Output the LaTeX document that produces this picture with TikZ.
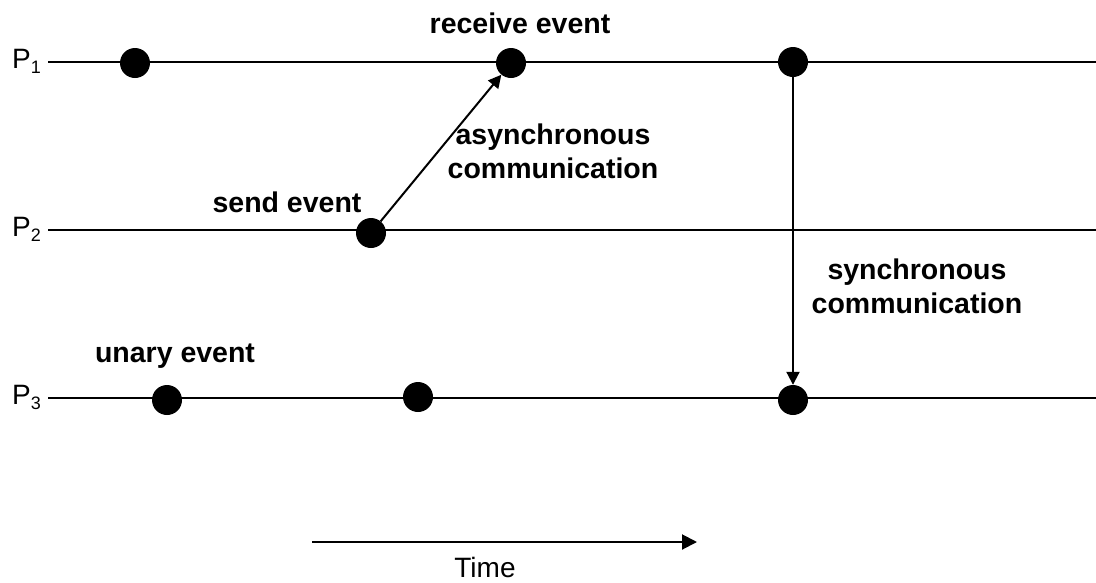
\documentclass[tikz,border=0pt]{standalone}
\usepackage{fontspec}
\setmainfont{Liberation Sans}
\usetikzlibrary{arrows.meta}

\newcommand{\procsub}[1]{\raisebox{-5pt}{\fontsize{18}{18}\selectfont #1}}

\begin{document}
\begin{tikzpicture}[x=1pt,y=-1pt,
    every node/.style={font=\fontsize{28}{34}\selectfont},
    event/.style={circle,fill=black,inner sep=0pt,minimum size=30pt},
    timeline/.style={line width=2.4pt},
    msg/.style={line width=2pt,-{Triangle[length=13pt,width=13pt]}},
    lbl/.style={font=\fontsize{28.5}{34}\selectfont\bfseries,anchor=base,align=center,inner sep=0pt},
    proc/.style={anchor=base west,inner sep=0pt}]
  \useasboundingbox (0,0) rectangle (1096,582);

  % process time lines
  \coordinate (l1a) at (48,62);  \coordinate (l1b) at (1096,62);
  \coordinate (l2a) at (48,230); \coordinate (l2b) at (1096,230);
  \coordinate (l3a) at (48,398); \coordinate (l3b) at (1096,398);
  \draw[timeline] (l1a) -- (l1b);
  \draw[timeline] (l2a) -- (l2b);
  \draw[timeline] (l3a) -- (l3b);

  \node[proc] (P1) at (12,68)  {P\procsub{1}};
  \node[proc] (P2) at (12,236) {P\procsub{2}};
  \node[proc] (P3) at (12,404) {P\procsub{3}};

  % events
  \node[event] (e11) at (135,63) {};
  \node[event] (e12) at (511,63) {};
  \node[event] (e13) at (793,62) {};
  \node[event] (e21) at (371,233) {};
  \node[event] (e31) at (167,400) {};
  \node[event] (e32) at (418,397) {};
  \node[event] (e33) at (793,400) {};

  % messages
  \draw[msg] (e21) -- (e12);
  \draw[msg] (e13) -- (e33);

  % labels (base anchor sits on the last line)
  \node[lbl] (recv)  at (520,33)  {receive event};
  \node[lbl] (async) at (553,178) {asynchronous\\communication};
  \node[lbl] (send)  at (287,212) {send event};
  \node[lbl] (sync)  at (917,313) {synchronous\\communication};
  \node[lbl] (unary) at (175,362) {unary event};

  % time axis
  \coordinate (t0) at (312,542);
  \coordinate (t1) at (697,542);
  \draw[line width=2pt,-{Triangle[length=15pt,width=15pt]}] (t0) -- (t1);
  \node[anchor=base,inner sep=0pt] (time) at (485,577) {Time};
\end{tikzpicture}
\end{document}
